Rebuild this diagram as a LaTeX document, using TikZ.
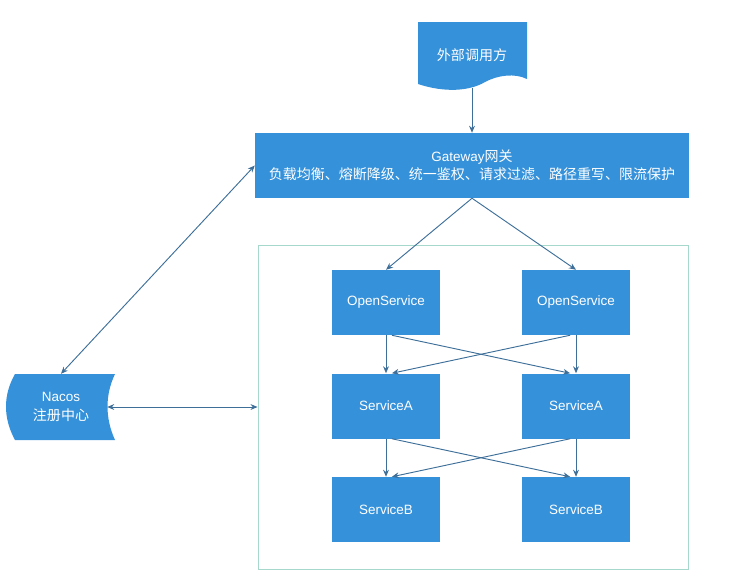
\documentclass[tikz,border=0pt]{standalone}
\usepackage{fontspec}
\setmainfont{Liberation Sans}
\newfontfamily\cjk[Scale=1.04]{Noto Sans CJK SC}
\usetikzlibrary{arrows.meta}
\definecolor{boxblue}{HTML}{3591DA}
\definecolor{linkblue}{HTML}{3E6F99}
\definecolor{frameteal}{HTML}{A6D8CC}

\begin{document}
\begin{tikzpicture}[x=0.03cm,y=-0.03cm,>={Stealth[length=6pt,width=5pt]},
  font=\fontsize{11.5}{15.5}\selectfont,
  svc/.style={fill=boxblue,text=white,minimum width=108*0.03cm,minimum height=65*0.03cm,inner sep=0pt},
  flow/.style={->,draw=linkblue,line width=0.8pt}]
\useasboundingbox (0,0) rectangle (738,584);
% caller (document shape) and registry shape
\fill[boxblue] (418,22) -- (527,22) -- (527,79) .. controls (515,73) and (498,75) .. (485,82)
  .. controls (470,91) and (445,93) .. (418,84) -- cycle;
\node[text=white,minimum width=109*0.03cm,minimum height=66*0.03cm,inner sep=0pt] (caller) at (472,55) {\cjk 外部调用方};
\fill[boxblue] (15,374) -- (115,374) .. controls (105,395) and (105,418) .. (115,440) -- (15,440)
  .. controls (3,418) and (3,395) .. (15,374);
\node[text=white,align=center,minimum width=92*0.03cm,minimum height=66*0.03cm,inner sep=0pt] (nacos) at (61,407) {Nacos\\{\cjk 注册中心}};
% gateway and service cluster
\node[svc,minimum width=434*0.03cm,align=center] (gateway) at (472,165.5) {Gateway{\cjk 网关}\\{\cjk 负载均衡、熔断降级、统一鉴权、请求过滤、路径重写、限流保护}};
\node[draw=frameteal,line width=0.8pt,minimum width=430*0.03cm,minimum height=324*0.03cm] (cluster) at (473,407) {};
\foreach \name/\x/\y/\txt in {open1/386/302.5/OpenService,open2/576/302.5/OpenService,
  svca1/386/406/ServiceA,svca2/576/406/ServiceA,svcb1/386/509.5/ServiceB,svcb2/576/509.5/ServiceB}
  \node[svc] (\name) at (\x,\y) {\txt};
% links
\draw[flow] (caller) -- (gateway);
\draw[flow] (gateway.south) -- (open1.north);
\draw[flow] (gateway.south) -- (open2.north);
\draw[flow,<->] (nacos.north) -- (gateway.west);
\draw[flow,<->] (nacos.east) -- (cluster.west);
\foreach \top/\bot/\otop/\obot in {open1/svca1/open2/svca2,svca1/svcb1/svca2/svcb2}{
\draw[flow] (\top) -- (\bot); \draw[flow] (\otop) -- (\obot);
\draw[flow] ([xshift=5pt]\top.south) -- ([xshift=-5pt]\obot.north);
\draw[flow] ([xshift=-5pt]\otop.south) -- ([xshift=5pt]\bot.north);}
\end{tikzpicture}
\end{document}
